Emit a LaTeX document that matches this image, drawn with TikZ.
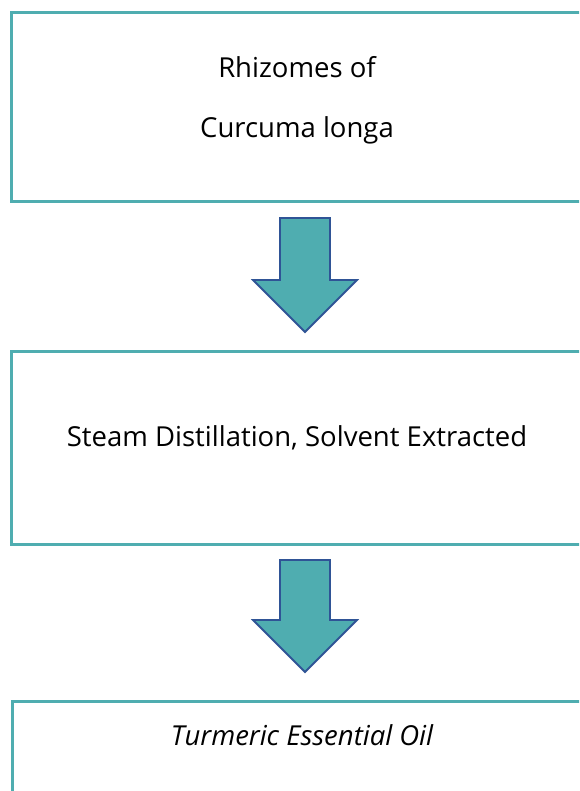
\documentclass[tikz,border=0pt]{standalone}
\usepackage{fontspec}
\setmainfont{Open Sans}
\definecolor{teal1}{HTML}{4FADB0}
\definecolor{navy1}{HTML}{2F5496}
\begin{document}
\begin{tikzpicture}[x=1pt,y=-1pt,
  boxst/.style={draw=teal1,line width=3pt,fill=white},
  arrowst/.style={draw=navy1,fill=teal1,line width=1.8pt,line join=miter},
  txt/.style={font=\fontsize{27.5}{33}\selectfont,text=black,inner sep=0pt}]
\useasboundingbox (0,0) rectangle (579,791);
\clip (0,0) rectangle (579,791);
\draw[boxst] (11.5,13) rectangle (600,202);
\draw[boxst] (11.5,351) rectangle (600,544);
\draw[boxst] (12.5,701) rectangle (600,820);
\node[txt] (t1) at (297,67) {Rhizomes of};
\node[txt] (t2) at (297,130) {Curcuma longa};
\node[txt] (t3) at (297,438) {Steam Distillation, Solvent Extracted};
\node[txt,font=\fontsize{27.5}{33}\selectfont\itshape] (t4) at (302,735) {Turmeric Essential Oil};
\draw[arrowst] (280,218) -- (330,218) -- (330,280) -- (357,280) -- (305,332) -- (253,280) -- (280,280) -- cycle;
\draw[arrowst] (280,560) -- (330,560) -- (330,620) -- (357,620) -- (305,672) -- (253,620) -- (280,620) -- cycle;
\end{tikzpicture}
\end{document}
